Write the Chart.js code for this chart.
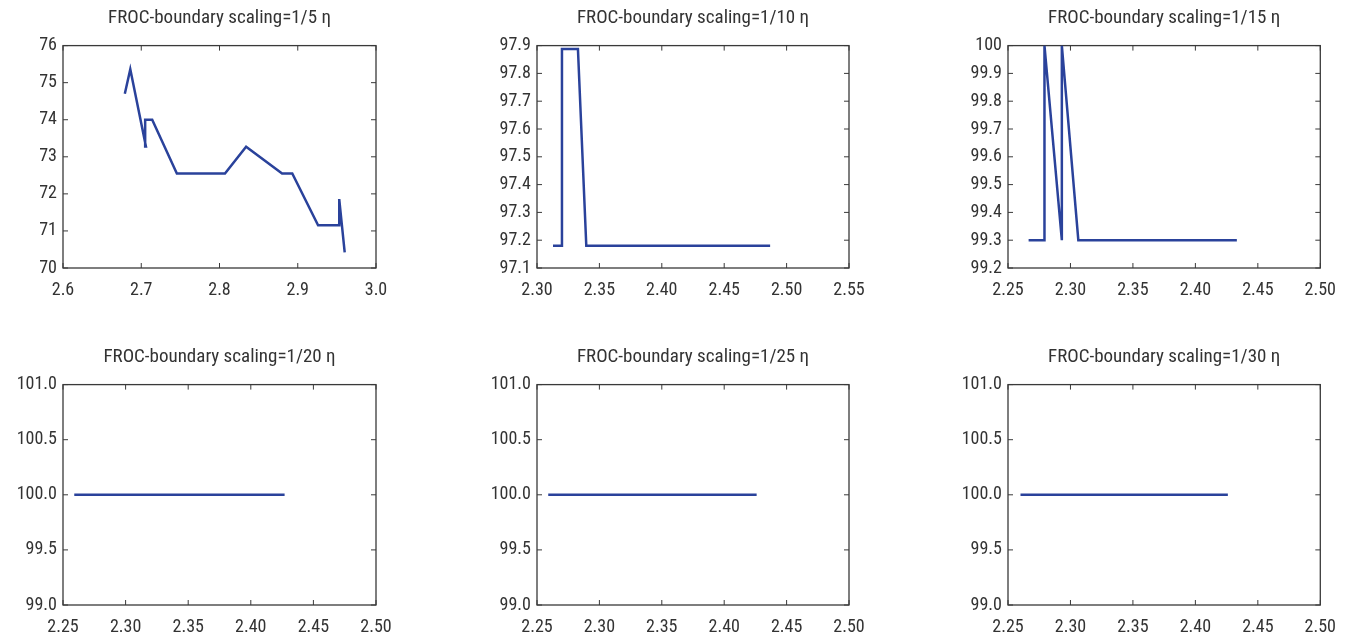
<!DOCTYPE html>
<html>
<head>
<meta charset="utf-8">
<script src="https://cdn.jsdelivr.net/npm/chart.js@4/dist/chart.umd.min.js"></script>
<style>
html,body{margin:0;padding:0;background:#fff;}
body{width:1348px;height:640px;position:relative;overflow:hidden;}
.p{position:absolute;}
</style>
</head>
<body>
<div class="p" id="c1"><canvas id="k1"></canvas></div>
<div class="p" id="c2"><canvas id="k2"></canvas></div>
<div class="p" id="c3"><canvas id="k3"></canvas></div>
<div class="p" id="c4"><canvas id="k4"></canvas></div>
<div class="p" id="c5"><canvas id="k5"></canvas></div>
<div class="p" id="c6"><canvas id="k6"></canvas></div>
<script>
// ---- data ----
const titles = [
  "FROC-boundary scaling=1/5 \u03b7",
  "FROC-boundary scaling=1/10 \u03b7",
  "FROC-boundary scaling=1/15 \u03b7",
  "FROC-boundary scaling=1/20 \u03b7",
  "FROC-boundary scaling=1/25 \u03b7",
  "FROC-boundary scaling=1/30 \u03b7"
];
const x1 = [2.679, 2.686, 2.706, 2.705, 2.714, 2.7455, 2.807, 2.834, 2.880, 2.893, 2.926, 2.953, 2.953, 2.960];
const y1 = [74.70, 75.36, 73.28, 74.00, 74.00, 72.55, 72.55, 73.27, 72.55, 72.55, 71.15, 71.15, 71.86, 70.42];
const x2 = [2.3128, 2.3200, 2.3200, 2.3328, 2.3395, 2.4868];
const y2 = [97.18, 97.18, 97.888, 97.888, 97.18, 97.18];
const x3 = [2.2665, 2.2792, 2.2792, 2.2931, 2.2931, 2.3063, 2.4332];
const y3 = [99.3, 99.3, 100.0, 99.3, 100.0, 99.3, 99.3];
const x4 = [2.259, 2.427];
const y4 = [100.0, 100.0];
const x5 = [2.259, 2.426];
const y5 = [100.0, 100.0];
const x6 = [2.260, 2.426];
const y6 = [100.0, 100.0];
// axis ranges / tick steps
const xMin = [2.6, 2.30, 2.25, 2.25, 2.25, 2.25];
const xMax = [3.0, 2.55, 2.50, 2.50, 2.50, 2.50];
const xStep = [0.1, 0.05, 0.05, 0.05, 0.05, 0.05];
const xDec = [1, 2, 2, 2, 2, 2];
const yMin = [70, 97.1, 99.2, 99.0, 99.0, 99.0];
const yMax = [76, 97.9, 100.0, 101.0, 101.0, 101.0];
const yStep = [1, 0.1, 0.1, 0.5, 0.5, 0.5];
const yFmt = ["int", "1", "trim", "1", "1", "1"];

const xsAll = [x1, x2, x3, x4, x5, x6];
const ysAll = [y1, y2, y3, y4, y5, y6];

// ---- layout (container boxes) ----
const boxes = [
  {left: 0,   top: 0,   width: 450, height: 320, yw: 63,  padR: 74, tTop: 6.4,  tBot: 16.4, xh: 52},
  {left: 450, top: 0,   width: 450, height: 320, yw: 87,  padR: 51, tTop: 6.4,  tBot: 16.4, xh: 52},
  {left: 900, top: 0,   width: 448, height: 320, yw: 108, padR: 27, tTop: 6.4,  tBot: 16.4, xh: 52},
  {left: 0,   top: 320, width: 450, height: 320, yw: 63,  padR: 74, tTop: 25.4, tBot: 16.4, xh: 35},
  {left: 450, top: 320, width: 450, height: 320, yw: 87,  padR: 51, tTop: 25.4, tBot: 16.4, xh: 35},
  {left: 900, top: 320, width: 448, height: 320, yw: 108, padR: 27, tTop: 25.4, tBot: 16.4, xh: 35}
];

const FONT = "'Liberation Sans Narrow', 'Roboto Condensed', 'DejaVu Sans Condensed', 'Liberation Sans', sans-serif";
const LINE = '#2a429b';
const AXIS = '#3a3a3a';
const TEXT = '#333333';

const framePlugin = {
  id: 'frame',
  beforeDatasetsDraw(chart) {
    const {ctx, chartArea: a, scales} = chart;
    ctx.save();
    ctx.strokeStyle = AXIS;
    ctx.lineWidth = 1.3;
    ctx.strokeRect(a.left, a.top, a.right - a.left, a.bottom - a.top);
    const L = 5;
    ctx.lineWidth = 1;
    ctx.beginPath();
    scales.x.ticks.forEach(t => {
      const px = scales.x.getPixelForValue(t.value);
      ctx.moveTo(px, a.bottom); ctx.lineTo(px, a.bottom - L);
      ctx.moveTo(px, a.top); ctx.lineTo(px, a.top + L);
    });
    scales.y.ticks.forEach(t => {
      const py = scales.y.getPixelForValue(t.value);
      ctx.moveTo(a.left, py); ctx.lineTo(a.left + L, py);
      ctx.moveTo(a.right, py); ctx.lineTo(a.right - L, py);
    });
    ctx.stroke();
    ctx.restore();
  }
};

function fmtY(v, mode) {
  if (mode === 'int') return String(Math.round(v));
  if (mode === 'trim') return String(Number(v.toFixed(1)));
  return v.toFixed(1);
}

for (let i = 0; i < 6; i++) {
  const b = boxes[i];
  const div = document.getElementById('c' + (i + 1));
  div.style.left = b.left + 'px';
  div.style.top = b.top + 'px';
  div.style.width = b.width + 'px';
  div.style.height = b.height + 'px';
  const pts = xsAll[i].map((x, j) => ({x: x, y: ysAll[i][j]}));
  new Chart(document.getElementById('k' + (i + 1)), {
    type: 'scatter',
    data: {datasets: [{
      data: pts, showLine: true, borderColor: LINE, backgroundColor: LINE,
      borderWidth: 2.5, pointRadius: 0, tension: 0, borderJoinStyle: 'miter'
    }]},
    options: {
      responsive: true, maintainAspectRatio: false, animation: false,
      layout: {padding: {left: 0, right: b.padR, top: 0, bottom: 0}},
      plugins: {
        legend: {display: false}, tooltip: {enabled: false},
        title: {display: true, text: titles[i], fullSize: false, color: TEXT,
          font: {family: FONT, size: 19, weight: 'normal'}, padding: {top: b.tTop, bottom: b.tBot}}
      },
      scales: {
        x: {
          type: 'linear', min: xMin[i], max: xMax[i],
          grid: {display: false, drawTicks: false},
          border: {display: false},
          ticks: {stepSize: xStep[i], color: TEXT, padding: 12, maxRotation: 0, autoSkip: false,
            font: {family: FONT, size: 18},
            callback: (v) => Number(v).toFixed(xDec[i])},
          afterFit: (s) => { s.height = b.xh; }
        },
        y: {
          type: 'linear', min: yMin[i], max: yMax[i],
          grid: {display: false, drawTicks: false},
          border: {display: false},
          ticks: {stepSize: yStep[i], color: TEXT, padding: 6, autoSkip: false,
            font: {family: FONT, size: 18},
            callback: (v) => fmtY(Number(v), yFmt[i])},
          afterFit: (s) => { s.width = b.yw; }
        }
      }
    },
    plugins: [framePlugin]
  });
}
</script>
</body>
</html>
